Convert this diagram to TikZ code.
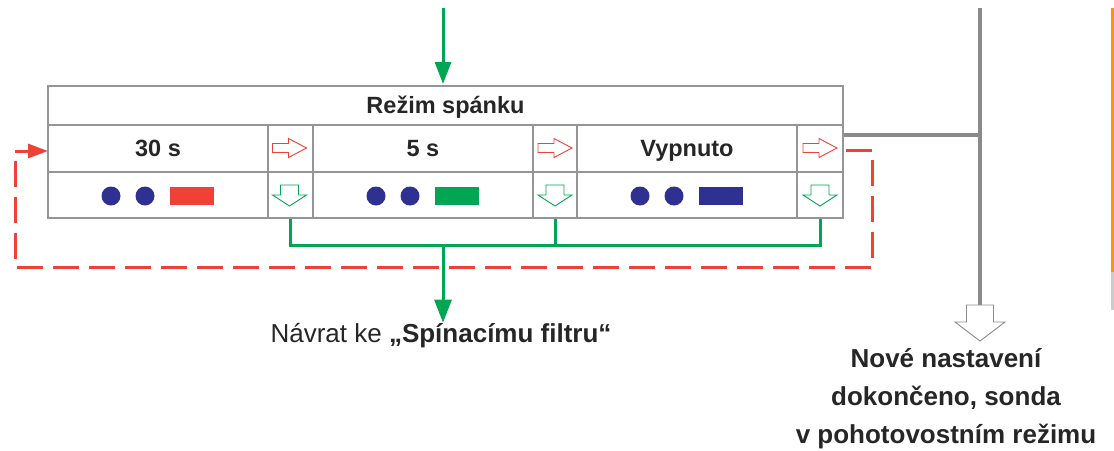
\documentclass[tikz,border=0pt]{standalone}
\usepackage{fontspec}
\setmainfont{Liberation Sans}
\usetikzlibrary{arrows.meta}
\definecolor{cred}{HTML}{EF4136}
\definecolor{cgreen}{HTML}{00A651}
\definecolor{cblue}{HTML}{2E3192}
\definecolor{cgray}{HTML}{939598}
\definecolor{cdgray}{HTML}{8A8A8C}
\definecolor{corange}{HTML}{F7941D}
\begin{document}
\begin{tikzpicture}[x=1pt,y=-1pt,
  tabline/.style={cgray,line width=1.2pt},
  tabtxt/.style={font=\fontsize{23.5}{27}\selectfont\bfseries,text=black!85,inner sep=0pt,anchor=base},
  outtxt/.style={font=\fontsize{26}{38}\selectfont,text=black!85,inner sep=0pt},
  greenline/.style={cgreen,line width=3pt},
  redloop/.style={cred,line width=3pt,dash pattern=on 26pt off 10pt},
  grayline/.style={cdgray,line width=4pt},
  rarrow/.pic={\draw[cred,line width=0.9pt,fill=white] (-17,-4.5) -- (-1,-4.5) -- (-1,-9.5) -- (17,0) -- (-1,9.5) -- (-1,4.5) -- (-17,4.5) -- cycle;},
  garrow/.pic={\draw[cgreen,line width=0.9pt,fill=white] (-9,-10) -- (9,-10) -- (9,0) -- (17,0) -- (0,11) -- (-17,0) -- (-9,0) -- cycle;},
  dots/.pic={\fill[cblue] (-47,0) circle (9.5) (-13,0) circle (9.5);}
]
\useasboundingbox (0,0) rectangle (1114,450);

% right edge strip
\fill[corange] (1111,8) rectangle (1114,272);
\fill[black!20] (1111,272) rectangle (1114,310);

% table
\draw[tabline] (48,125) -- (843,125);
\draw[tabline] (48,172) -- (843,172);
\foreach \x in {268,313,533,577,797}{\draw[tabline] (\x,125) -- (\x,218);}
\draw[cgray,line width=2.2pt] (48,86) rectangle (843,218);

\node[tabtxt] (hdr) at (445.5,113) {Režim spánku};
\node[tabtxt] (t1) at (158,156) {30 s};
\node[tabtxt] (t2) at (423,156) {5 s};
\node[tabtxt] (t3) at (687,156) {Vypnuto};

\pic at (158,196) {dots};
\fill[cred] (170,187) rectangle (214,205);
\pic at (423,196) {dots};
\fill[cgreen] (435,187) rectangle (479,205);
\pic at (687,196) {dots};
\fill[cblue] (699,187) rectangle (743,205);

\foreach \x in {289.5,555,820}{
  \pic at (\x,148) {rarrow};
  \pic at (\x,195) {garrow};
}

% top incoming arrow
\coordinate (top) at (443,8);
\coordinate (hdrtop) at (443,84);
\draw[cgreen,line width=3pt,-{Triangle[length=22pt,width=16pt]}] (top) -- (hdrtop);

% green collector
\coordinate (g1) at (290,219);
\coordinate (g2) at (555,219);
\coordinate (g3) at (820,219);
\coordinate (gm) at (443,245);
\draw[greenline] (g1) |- (gm) -| (g3);
\draw[greenline] (g2) -- (g2|-gm);
\node[outtxt,anchor=base] (ret) at (441,342) {Návrat ke \textbf{„Spínacímu filtru“}};
\draw[cgreen,line width=3pt,-{Triangle[length=23pt,width=17pt]}] (gm) -- (ret.north -| gm);

% red dashed loop
\coordinate (r0) at (846,150);
\coordinate (r1) at (872,267);
\coordinate (r2) at (15,267);
\coordinate (r3) at (48,151);
\draw[redloop,-{Triangle[length=20pt,width=14pt]}] (r0) -| (r1) -- (r2) |- (r3);

% gray exit
\coordinate (e0) at (844,135);
\coordinate (vtop) at (980,8);
\coordinate (vbot) at (980,305);
\draw[grayline] (e0) -- (vtop|-e0);
\draw[grayline] (vtop) -- (vbot);
\draw[cdgray,line width=0.9pt,fill=white] (966.5,305) -- (993.5,305) -- (993.5,322) -- (1005,322) -- (980,341) -- (955,322) -- (966.5,322) -- cycle;

\node[outtxt,anchor=base,align=center,font=\fontsize{26}{38}\selectfont\bfseries] (done) at (946,443) {Nové nastavení\\dokončeno, sonda\\v pohotovostním režimu};
\end{tikzpicture}
\end{document}
